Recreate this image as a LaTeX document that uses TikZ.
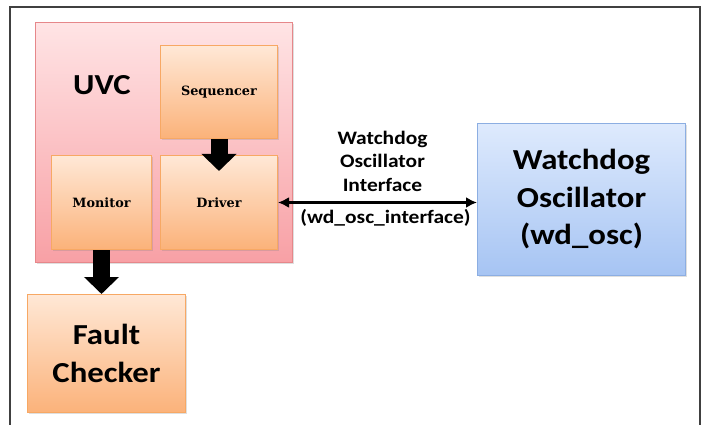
\documentclass[tikz,border=0pt]{standalone}
\usepackage{fontspec}
\setmainfont{Carlito}[FakeStretch=1.13]
\newfontfamily\slabfont{DejaVu Serif}
\usepackage{tikz}
\usetikzlibrary{arrows.meta, positioning, calc, shadows}
\usepackage{xcolor}

\definecolor{FrameGray}{RGB}{64,64,64}
\definecolor{UvcTop}{RGB}{255,228,229}
\definecolor{UvcBottom}{RGB}{248,160,165}
\definecolor{UvcLine}{RGB}{230,135,138}
\definecolor{PartTop}{RGB}{255,232,214}
\definecolor{PartBottom}{RGB}{251,178,122}
\definecolor{PartLine}{RGB}{247,168,100}
\definecolor{OscTop}{RGB}{222,234,253}
\definecolor{OscBottom}{RGB}{166,196,243}
\definecolor{OscLine}{RGB}{140,174,226}

\tikzset{
  softshadow/.style={drop shadow={opacity=0.25, shadow xshift=1.5pt, shadow yshift=-1.5pt}},
  uvcbox/.style={draw=UvcLine, line width=1pt, top color=UvcTop, bottom color=UvcBottom,
    softshadow, inner sep=0pt, anchor=north west},
  partbox/.style={draw=PartLine, line width=1pt, top color=PartTop, bottom color=PartBottom,
    softshadow, inner sep=0pt, minimum height=94pt,
    font=\slabfont\bfseries\fontsize{12.8}{15}\selectfont},
  bigbox/.style={line width=1pt, softshadow, inner sep=0pt, anchor=north west, align=center,
    font=\bfseries\fontsize{29}{37.5}\selectfont},
  blockarrow/.style={line width=17pt, -{Triangle[width=34pt,length=17pt]}},
  linkarrow/.style={line width=3.2pt, {Latex[length=11pt,width=11pt]}-{Latex[length=11pt,width=11pt]}},
  linklabel/.style={align=center, inner sep=0pt, font=\bfseries\fontsize{19}{23.5}\selectfont}
}

\begin{document}
\begin{tikzpicture}[x=1pt, y=-1pt]
\useasboundingbox (0,0) rectangle (704,425);
\draw[FrameGray, line width=1.6pt] (10,425) -- (10,7) -- (700,7) -- (700,425);

\node[uvcbox, minimum width=257pt, minimum height=240pt] (uvc) at (35,22) {};
\node[font=\bfseries\fontsize{29}{34}\selectfont] (uvclabel) at (102,85) {UVC};

\node[partbox, minimum width=117pt, minimum height=93pt, anchor=north west] (seq) at (160,45) {Sequencer};
\node[partbox, minimum width=117pt, below=16pt of seq] (drv) {Driver};
\node[partbox, minimum width=100pt, left=8pt of drv] (mon) {Monitor};

\node[bigbox, draw=PartLine, top color=PartTop, bottom color=PartBottom,
  minimum width=158pt, minimum height=118pt] (fault) at (27,294) {Fault\\Checker};
\node[bigbox, draw=OscLine, top color=OscTop, bottom color=OscBottom,
  minimum width=208pt, minimum height=152pt] (osc) at (477,123) {Watchdog\\Oscillator\\(wd\_osc)};

\draw[blockarrow, shorten >=-16pt] (seq.south) -- (drv.north);
\draw[blockarrow] (mon.south) -- (mon.south |- fault.north);
\draw[linkarrow] (drv.east) -- (drv.east -| osc.west) coordinate (oscin);

\node[linklabel, anchor=south] (ifname) at ($(drv.east)!0.5!(oscin)+(5,-11)$) {Watchdog\\Oscillator\\Interface};
\node[linklabel, anchor=north] (ifid) at ($(drv.east)!0.5!(oscin)+(8,7)$) {(wd\_osc\_interface)};
\end{tikzpicture}
\end{document}
